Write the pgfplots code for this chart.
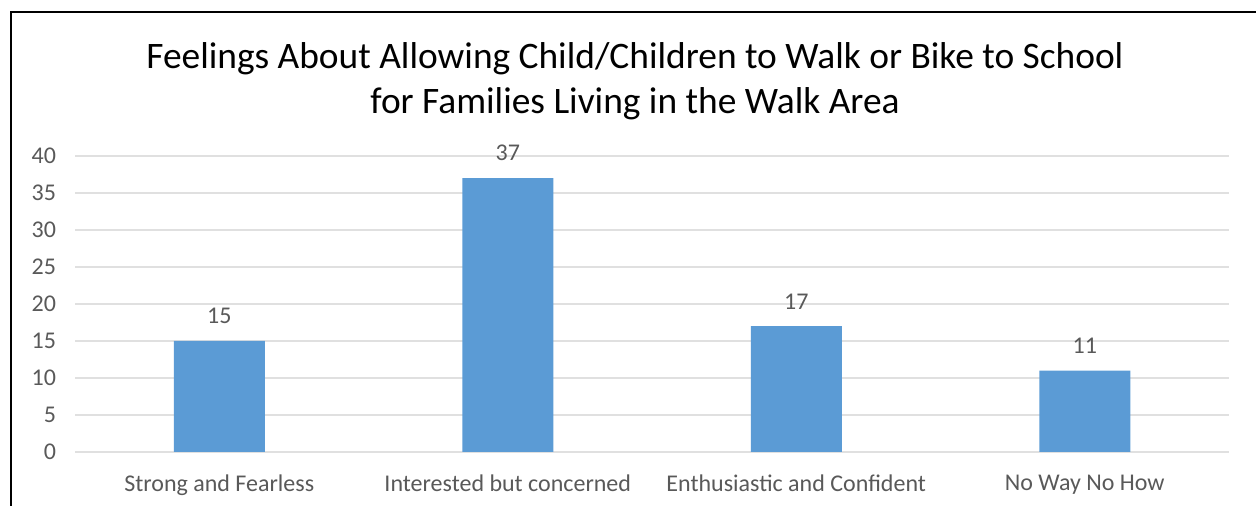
\documentclass[border=0pt]{standalone}
\usepackage{pgfplots}
\pgfplotsset{compat=1.18}
\usepackage{fontspec}
\setmainfont{Carlito}
\definecolor{barblue}{HTML}{5B9BD5}
\definecolor{txtgray}{HTML}{595959}
\definecolor{gridgray}{HTML}{E0E0E0}
\begin{document}
\begin{tikzpicture}[x=0.5pt,y=0.5pt]
\useasboundingbox (0,0) rectangle (1256,506);
\draw[black,line width=1.2pt] (11,0) -- (11,494) -- (1256,494);
\node[font=\fontsize{18.7}{22.5}\selectfont,align=center,text=black] at (635,424.5) {Feelings About Allowing Child/Children to Walk or Bike to School\\for Families Living in the Walk Area};
\begin{axis}[
  at={(75pt*0.5,54pt*0.5)}, anchor=south west,
  scale only axis, width=577pt, height=148pt,
  xmin=-0.5, xmax=3.5, ymin=0, ymax=40,
  ytick={0,5,...,40},
  xtick={0,1,2,3},
  xticklabels={Strong and Fearless,Interested but concerned,Enthusiastic and Confident,No Way No How},
  axis line style={draw=none},
  major tick length=0pt,
  ymajorgrids, grid style={gridgray,line width=0.8pt},
  tick label style={text=txtgray,font=\fontsize{12}{14}\selectfont},
  /pgf/number format/assume math mode=true,
  yticklabel style={xshift=-6pt},
  xticklabel style={yshift=-8pt},
  clip=false,
]
\addplot[ybar, bar width=45.5pt, fill=barblue, draw=none,
  nodes near coords,
  every node near coord/.style={text=txtgray,font=\fontsize{12}{14}\selectfont,yshift=5pt}]
  coordinates {(0,15) (1,37) (2,17) (3,11)};
\end{axis}
\end{tikzpicture}
\end{document}
